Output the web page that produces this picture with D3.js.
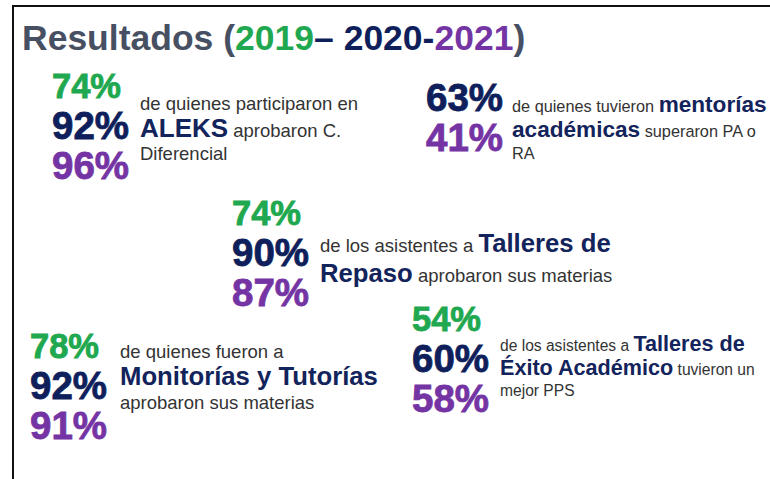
<!DOCTYPE html>
<html>
<head>
<meta charset="utf-8">
<script src="https://cdn.jsdelivr.net/npm/d3@7"></script>
<style>
  body { margin: 0; background: #fff; }
  svg { display: block; }
</style>
</head>
<body>
<div id="chart"></div>
<script>
// years and their colours
const years = ['2019', '2020', '2021'];
const yearColors = ['#1fa84f', '#0f1f5c', '#7434a4'];

// programs and results per year (null = not reported)
const programs = ['ALEKS', 'Mentorías académicas', 'Talleres de Repaso', 'Monitorías y Tutorías', 'Talleres de Éxito Académico'];
const values2019 = [74, null, 74, 78, 54];
const values2020 = [92, 63, 90, 92, 60];
const values2021 = [96, 41, 87, 91, 58];

// description lines, [text, bold?]
const descriptions = [
  [[['de quienes participaron en', 0]], [['ALEKS', 1], [' aprobaron C.', 0]], [['Diferencial', 0]]],
  [[['de quienes tuvieron ', 0], ['mentorías', 1]], [['académicas', 1], [' superaron PA o', 0]], [['RA', 0]]],
  [[['de los asistentes a ', 0], ['Talleres de', 1]], [['Repaso', 1], [' aprobaron sus materias', 0]]],
  [[['de quienes fueron a', 0]], [['Monitorías y Tutorías', 1]], [['aprobaron sus materias', 0]]],
  [[['de los asistentes a ', 0], ['Talleres de', 1]], [['Éxito Académico', 1], [' tuvieron un', 0]], [['mejor PPS', 0]]]
];

const W = 770, H = 479;
const svg = d3.select('#chart').append('svg').attr('width', W).attr('height', H);

// frame
svg.append('path')
  .attr('d', `M13,${H} V6 H${W}`)
  .attr('fill', 'none')
  .attr('stroke', '#111')
  .attr('stroke-width', 2);

// title
const title = svg.append('text')
  .attr('x', 22).attr('y', 50)
  .attr('font-family', '"Liberation Sans", Arial, sans-serif')
  .attr('font-weight', 'bold')
  .attr('font-size', 35.5);
title.append('tspan').attr('fill', '#475062').text('Resultados (');
title.append('tspan').attr('fill', yearColors[0]).text(years[0]);
title.append('tspan').attr('fill', yearColors[1]).text('– ' + years[1] + '-');
title.append('tspan').attr('fill', yearColors[2]).text(years[2]);
title.append('tspan').attr('fill', '#475062').text(')');

// block layout: numbers column x, text column x, first number baseline,
// first text baseline, line heights, font sizes
const layout = [
  { x: 52, tx: 140, y: 98, ty: 110, lh: [27, 23], fs: 18.5, fb: 26 },
  { x: 426, tx: 512, y: 70, ty: 112, lh: [25, 22], fs: 16.3, fb: 22.6 },
  { x: 232, tx: 320, y: 225, ty: 252, lh: [30, 30], fs: 18.5, fb: 25.7 },
  { x: 30, tx: 120, y: 358, ty: 358, lh: [27, 24], fs: 18.5, fb: 25.7 },
  { x: 412, tx: 500, y: 331, ty: 351, lh: [24, 21], fs: 15.6, fb: 21.6 }
];

const rowY = d3.scalePoint().domain(years).range([0, 81]);
const seriesByYear = [values2019, values2020, values2021];

programs.forEach((p, i) => {
  const L = layout[i];
  const g = svg.append('g');
  // percentages, one row per year
  years.forEach((yr, j) => {
    const v = seriesByYear[j][i];
    if (v == null) return;
    g.append('text')
      .attr('x', L.x)
      .attr('y', L.y + rowY(yr))
      .attr('fill', yearColors[j])
      .attr('stroke', yearColors[j])
      .attr('stroke-width', 0.8)
      .attr('font-family', '"Liberation Sans", Arial, sans-serif')
      .attr('font-weight', 'bold')
      .attr('font-size', j === 0 ? 34.5 : 38.5)
      .text(v + '%');
  });
  // description text
  let ly = L.ty;
  descriptions[i].forEach((line, k) => {
    if (k > 0) ly += L.lh[k - 1];
    const t = g.append('text')
      .attr('x', L.tx)
      .attr('y', ly)
      .attr('font-family', '"Liberation Sans", Arial, sans-serif');
    line.forEach(([s, b]) => {
      t.append('tspan')
        .attr('fill', b ? '#13235b' : '#333')
        .attr('font-weight', b ? 'bold' : 'normal')
        .attr('font-size', b ? L.fb : L.fs)
        .text(s);
    });
  });
});
</script>
</body>
</html>
